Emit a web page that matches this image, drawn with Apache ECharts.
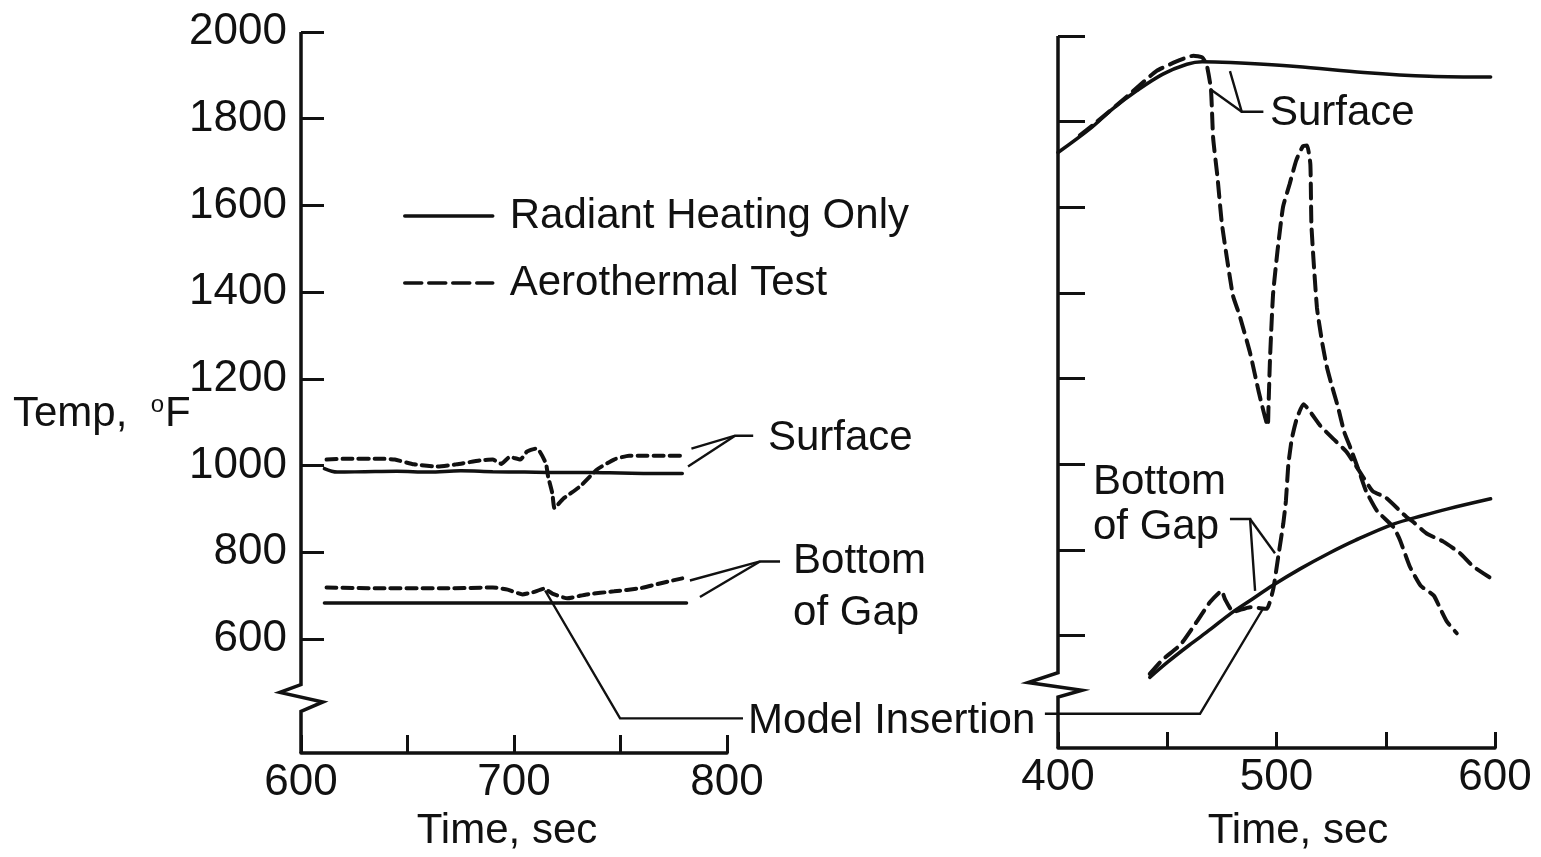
<!DOCTYPE html>
<html>
<head>
<meta charset="utf-8">
<script src="https://cdn.jsdelivr.net/npm/echarts@6/dist/echarts.min.js"></script>
<style>
  html, body { margin: 0; padding: 0; background: #fff; }
  #main { width: 1541px; height: 857px; }
</style>
</head>
<body>
<div id="main"></div>
<script>
const FONT = '"Liberation Sans", Arial, Helvetica, sans-serif';
const INK = '#111';

// ---- axes -------------------------------------------------------------
const tempTicks = [600, 800, 1000, 1200, 1400, 1600, 1800, 2000];
const tempTop = 2000;
const tempFloor = 337;            // value at the broken lower end of the scale
const leftTimeTicks = [600, 650, 700, 750, 800];
const leftTimeLabels = [600, 700, 800];
const rightTimeTicks = [400, 450, 500, 550, 600];
const rightTimeLabels = [400, 500, 600];

// ---- left panel (time 600-800 sec): [time, temperature] -----------------
const leftSurfaceRadiant = [[611,993],[617,985],[630,986],[645,987],[660,985],[675,988],[690,986],[705,985],[720,984],[735,984],[750,983],[765,982],[779,982]];
const leftSurfaceAerothermal = [[612,1014],[622,1016],[637,1016],[644,1014],[653,1003],[664,998],[673,1003],[684,1012],[690,1014],[694,1004],[698,1020],[703,1014],[706,1032],[710,1039],[712,1033],[715,1005],[716,975],[718,936],[719,902],[723,923],[731,952],[739,991],[747,1014],[754,1023],[762,1023],[778,1023]];
const leftGapRadiant = [[611,683],[650,683],[700,683],[750,683],[781,683]];
const leftGapAerothermal = [[612,719],[637,717],[669,717],[690,719],[697,714],[704,703],[709,708],[714,716],[718,705],[725,694],[734,703],[747,710],[759,717],[770,730],[779,740]];

// ---- right panel (time 400-600 sec) -------------------------------------
const rightSurfaceRadiant = [[400,1728],[415,1785],[425,1830],[436,1872],[448,1911],[459,1934],[466,1940],[479,1938],[509,1929],[540,1915],[570,1906],[598,1904]];
const rightSurfaceAerothermal = [[410,1768],[416,1792],[433,1865],[445,1918],[454,1940],[462,1954],[466,1950],[468,1934],[470,1876],[471,1762],[473,1670],[475,1562],[480,1395],[483,1349],[488,1258],[492,1166],[496,1090],[496.3,1127],[497,1242],[498.4,1395],[500.5,1500],[503,1601],[506,1654],[509,1709],[512,1742],[514,1744],[515.5,1700],[516,1556],[518.5,1366],[521,1281],[523,1228],[525,1189],[528,1136],[531,1075],[534,1036],[538,980],[541,937],[546,891],[553.5,853],[556.5,823],[561,761],[566,716],[572,693],[575,662],[578,632],[582.5,605]];
const rightGapRadiant = [[442,502],[450,537],[460,577],[470,615],[479,651],[489,685],[498,716],[511,756],[524,792],[536,822],[553.5,860],[567,880],[578,895],[598,919]];
const rightGapAerothermal = [[442,510],[448,544],[456,578],[463.5,632],[469.6,678],[474.9,704],[476.4,685],[480.2,655],[487.9,666],[495.5,662],[498.5,708],[500.8,784],[503.1,861],[504.3,914],[505.4,998],[507,1059],[509.2,1105],[512.3,1140],[520,1090],[526,1059],[532,1029],[538,983],[544,937],[550,922],[559.6,876],[562.6,865],[568.7,838],[576.4,819],[584,792],[590,761],[597.7,735],[600,731]];

const RADIANT = 'Radiant Heating Only';
const AERO = 'Aerothermal Test';

// ---- callouts, in [time, temperature] of their panel ---------------------
const leaders = [
  { panel: 0, pts: [[783.3,1039],[803.8,1069],[812.3,1069]] },
  { panel: 0, pts: [[781.7,998],[803.8,1069]] },
  { panel: 0, pts: [[782.6,735],[815.5,779],[824.9,779]] },
  { panel: 0, pts: [[787.3,697],[815.5,779]] },
  { panel: 0, pts: [[714.6,712],[749.8,417],[807.5,417]] },
  { panel: 1, pts: [[478.7,1918],[484.1,1823],[494,1823]] },
  { panel: 1, pts: [[469.6,1876],[484.1,1823]] },
  { panel: 1, pts: [[478.7,872],[487.9,872],[490.2,704]] },
  { panel: 1, pts: [[487.9,872],[499.3,792]] },
  { panel: 1, pts: [[394,417],[465,417],[494,664]] }
];
const callouts = [
  { panel: 0, at: [819.2,1062], text: 'Surface', lh: 48 },
  { panel: 0, at: [831,719], text: 'Bottom\nof Gap', lh: 52 },
  { panel: 0, at: [809.9,411], text: 'Model Insertion', lh: 48 },
  { panel: 1, at: [497,1820], text: 'Surface', lh: 48 },
  { panel: 1, at: [416,905], text: 'Bottom\nof Gap', lh: 45 }
];
// broken temperature axis: [time at axis, temperature] vertices
const axisBreaks = [
  { panel: 0, pts: [[600,tempTop],[600,495],[590.1,477],[610.3,455],[600,433],[600,tempFloor]] },
  { panel: 1, pts: [[400,tempTop],[400,513],[386.3,490],[411,472],[400,456],[400,tempFloor]] }
];

function series(name, data, panel, dashed) {
  return {
    type: 'line', name, data,
    xAxisIndex: panel, yAxisIndex: panel,
    symbol: 'none', silent: true,
    smooth: dashed ? 0.15 : 0.35,
    lineStyle: {
      color: INK, width: dashed ? 4 : 3.5, cap: 'round',
      type: dashed ? (panel === 0 ? [10, 6] : [15, 8]) : 'solid'
    },
    z: dashed ? 3 : 2
  };
}

function timeAxis(panel, min, max, ticks, labels, nameGap, namePad, tickLen) {
  return {
    type: 'value', gridIndex: panel, min, max,
    name: 'Time, sec', nameLocation: 'middle', nameGap,
    nameTextStyle: { fontFamily: FONT, fontSize: 42, color: INK, padding: namePad },
    axisLine: { show: true, lineStyle: { color: INK, width: 3.5 } },
    axisTick: { show: true, inside: true, length: tickLen, customValues: ticks, lineStyle: { color: INK, width: 3 } },
    axisLabel: { customValues: labels, fontFamily: FONT, fontSize: 44, color: INK, margin: 8, formatter: v => String(v) },
    splitLine: { show: false }
  };
}

function tempAxis(panel, showLabels, tickLen) {
  return {
    type: 'value', gridIndex: panel, min: tempFloor, max: tempTop,
    axisLine: { show: false },
    axisTick: { show: true, inside: true, length: tickLen, customValues: tempTicks, lineStyle: { color: INK, width: 3 } },
    axisLabel: { show: showLabels, customValues: tempTicks, fontFamily: FONT, fontSize: 44, color: INK, margin: 14, formatter: v => String(v) },
    splitLine: { show: false }
  };
}

const chart = echarts.init(document.getElementById('main'), null, { renderer: 'canvas' });

chart.setOption({
  animation: false,
  backgroundColor: '#fff',
  grid: [
    { left: 301, top: 32, width: 426, height: 727 },
    { left: 1058, top: 36, width: 437, height: 726 }
  ],
  xAxis: [
    timeAxis(0, 600, 800, leftTimeTicks, leftTimeLabels, 55, [0, 14, 0, 0], 18),
    timeAxis(1, 400, 600, rightTimeTicks, rightTimeLabels, 62, [0, 0, 0, 43], 16)
  ],
  yAxis: [tempAxis(0, true, 23), tempAxis(1, false, 27)],
  legend: {
    orient: 'vertical', left: 398, top: 190,
    itemWidth: 88, itemHeight: 20, itemGap: 25,
    selectedMode: false,
    itemStyle: { opacity: 0 },
    textStyle: { fontFamily: FONT, fontSize: 42, color: INK, lineHeight: 42, padding: [0, 0, 0, 12] },
    data: [
      { name: RADIANT, lineStyle: { type: 'solid', width: 3.5, color: INK } },
      { name: AERO, lineStyle: { type: [17, 7], width: 3.5, color: INK } }
    ]
  },
  series: [
    series(AERO, leftSurfaceAerothermal, 0, true),
    series(RADIANT, leftSurfaceRadiant, 0, false),
    series(AERO, leftGapAerothermal, 0, true),
    series(RADIANT, leftGapRadiant, 0, false),
    series(RADIANT, rightSurfaceRadiant, 1, false),
    series(AERO, rightSurfaceAerothermal, 1, true),
    series(RADIANT, rightGapRadiant, 1, false),
    series(AERO, rightGapAerothermal, 1, true)
  ]
});

// callout lines, labels and the broken axis lines, placed through the axes
const toPx = (panel, p) => chart.convertToPixel({ gridIndex: panel }, p);
const graphics = [];
axisBreaks.forEach(b => graphics.push({
  type: 'polyline', silent: true, z: 5,
  shape: { points: b.pts.map(p => toPx(b.panel, p)) },
  style: { stroke: INK, lineWidth: 3.5, fill: null, lineJoin: 'miter' }
}));
leaders.forEach(l => graphics.push({
  type: 'polyline', silent: true, z: 5,
  shape: { points: l.pts.map(p => toPx(l.panel, p)) },
  style: { stroke: INK, lineWidth: 2.4, fill: null }
}));
callouts.forEach(c => {
  const [x, y] = toPx(c.panel, c.at);
  graphics.push({
    type: 'text', silent: true, z: 6, x, y,
    style: {
      text: c.text, fill: INK, fontFamily: FONT, fontSize: 42, lineHeight: c.lh,
      align: 'left', verticalAlign: 'middle', textAlign: 'left', textVerticalAlign: 'middle'
    }
  });
});
graphics.push({
  type: 'text', silent: true, z: 6, x: 13, y: 414,
  style: {
    text: '{a|Temp,  }{s|o}{a|F}',
    align: 'left', verticalAlign: 'middle', textAlign: 'left', textVerticalAlign: 'middle',
    rich: {
      a: { fontFamily: FONT, fontSize: 42, fill: INK, color: INK, lineHeight: 42 },
      s: { fontFamily: FONT, fontSize: 24, fill: INK, color: INK, lineHeight: 42, verticalAlign: 'top', padding: [0, 1, 0, 0] }
    }
  }
});
chart.setOption({ graphic: { elements: graphics } });
</script>
</body>
</html>
